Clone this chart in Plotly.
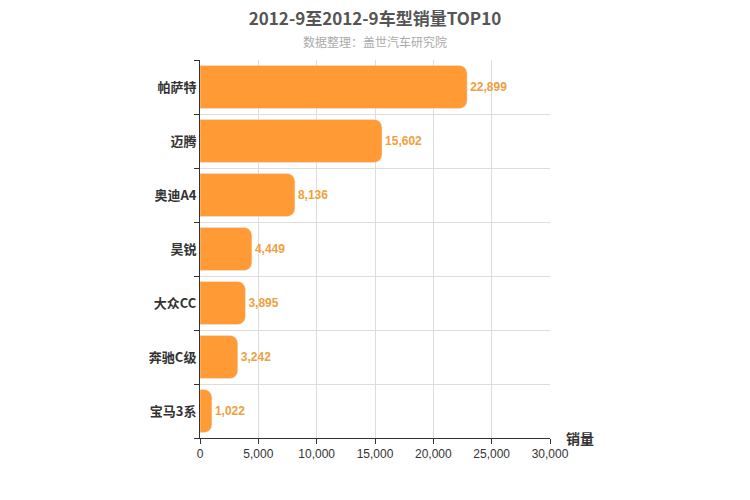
import plotly.graph_objects as go

models = ["帕萨特", "迈腾", "奥迪A4", "昊锐", "大众CC", "奔驰C级", "宝马3系"]
sales = [22899, 15602, 8136, 4449, 3895, 3242, 1022]
xticks = [0, 5000, 10000, 15000, 20000, 25000, 30000]

pos = list(range(len(models)))[::-1]

fig = go.Figure(go.Bar(
    x=sales, y=pos, orientation="h",
    marker=dict(color="#ff9a35", cornerradius=8),
    width=0.8,
    text=[f"<b>{v:,}</b>" for v in sales], textposition="outside",
    textfont=dict(color="#f0a040", size=12, family="Arial"),
    cliponaxis=False,
))

# the page adds an 8px body margin, so the figure is shifted up/left by 8px
fig.update_layout(
    width=750, height=500,
    margin=dict(l=192, r=208, t=52, b=70, autoexpand=False),
    plot_bgcolor="white", paper_bgcolor="white",
    font=dict(family="Noto Sans CJK SC, Arial", color="#333"),
    title=dict(text="<b>2012-9至2012-9车型销量TOP10</b>", x=367 / 750, y=0.977,
               xanchor="center", yanchor="middle", font=dict(size=17, color="#555")),
    showlegend=False,
    annotations=[
        dict(text="数据整理：盖世汽车研究院", x=0.5, y=1.05, xref="paper", yref="paper",
             yanchor="middle", showarrow=False, font=dict(size=12, color="#aaa")),
        dict(text="<b>销量</b>", x=1.04, y=0, xref="paper", yref="paper",
             xanchor="left", yanchor="middle", showarrow=False,
             font=dict(size=14, color="#333")),
    ],
)

fig.update_xaxes(range=[0, 30000], tickvals=xticks, tickformat=",", automargin=False,
                 showgrid=True, gridcolor="#ddd", zeroline=False,
                 ticks="outside", ticklen=5, tickcolor="#333",
                 showline=True, linecolor="#333",
                 tickfont=dict(size=12, family="Arial"))
fig.update_yaxes(range=[-0.5, len(models) - 0.5], tickvals=pos,
                 ticktext=[f"<b>{m}</b>" for m in models], automargin=False,
                 showgrid=False, zeroline=False, showline=True, linecolor="#333",
                 ticks="", tickfont=dict(size=13, color="#333"),
                 minor=dict(tick0=0.5, dtick=1, showgrid=True, gridcolor="#ddd",
                            ticks="outside", ticklen=5, tickcolor="#333"))

fig.write_html("out.html")
